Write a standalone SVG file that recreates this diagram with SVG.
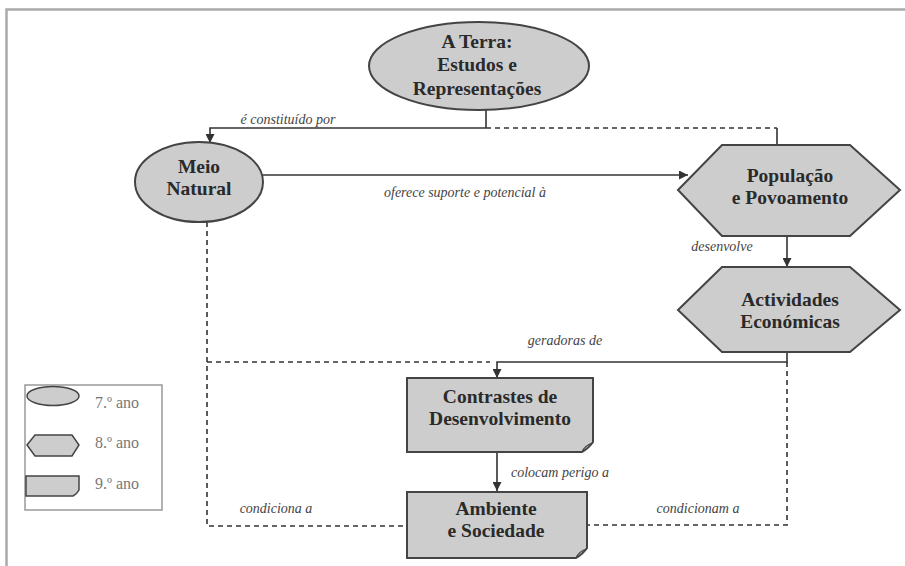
<svg xmlns="http://www.w3.org/2000/svg" width="905" height="566" viewBox="0 0 905 566">
<defs>
<marker id="ah" viewBox="0 0 10 10" refX="10" refY="5" markerWidth="9" markerHeight="9" markerUnits="userSpaceOnUse" orient="auto">
<path d="M0,0 L10,5 L0,10 Z" fill="#333"/>
</marker>
<style>
.node{fill:#cdcdcd;stroke:#444;stroke-width:2}
.t{font-family:"Liberation Serif",serif;font-weight:bold;font-size:19.5px;fill:#2a2a2a;text-anchor:middle}
.lbl{font-family:"Liberation Serif",serif;font-style:italic;font-size:14px;fill:#444;text-anchor:middle}
.leg{font-family:"Liberation Serif",serif;font-size:16px;fill:#777}
.solid{fill:none;stroke:#333;stroke-width:1.6}
.dash{fill:none;stroke:#333;stroke-width:1.6;stroke-dasharray:5,4}
.frame{fill:none;stroke:#aaa;stroke-width:2.5}
.fold{fill:none;stroke:#444;stroke-width:1.2}
</style>
</defs>
<rect width="905" height="566" fill="#fff"/>
<path class="frame" d="M6.5,566 V9.5 H905"/>

<g id="connectors">
<path class="solid" d="M486,110 V128"/>
<path class="solid" d="M486,128 H210 V143" marker-end="url(#ah)"/>
<path class="dash" d="M486,128 H777"/>
<path class="solid" d="M777,128 V145"/>
<path class="solid" d="M263,175 H688" marker-end="url(#ah)"/>
<path class="solid" d="M787,236 V267" marker-end="url(#ah)"/>
<path class="solid" d="M787,352 V362 H497 V378" marker-end="url(#ah)"/>
<path class="dash" d="M207,362 H490"/>
<path class="dash" d="M787,362 V525 H587"/>
<path class="dash" d="M207,222 V526 H406"/>
<path class="solid" d="M497,452 V491" marker-end="url(#ah)"/>
<text class="lbl" x="288" y="124">é constituído por</text>
<text class="lbl" x="465" y="197">oferece suporte e potencial à</text>
<text class="lbl" x="722" y="251">desenvolve</text>
<text class="lbl" x="565" y="345">geradoras de</text>
<text class="lbl" x="560" y="477">colocam perigo a</text>
<text class="lbl" x="276" y="513">condiciona a</text>
<text class="lbl" x="698" y="513">condicionam a</text>
</g>

<g id="terra">
<ellipse class="node" cx="479" cy="66" rx="110" ry="44"/>
<text class="t" x="477" y="48">A Terra:</text>
<text class="t" x="477" y="71">Estudos e</text>
<text class="t" x="477" y="95">Representações</text>
</g>

<g id="meio-natural">
<ellipse class="node" cx="199" cy="182" rx="64" ry="40"/>
<text class="t" x="199" y="173">Meio</text>
<text class="t" x="199" y="195">Natural</text>
</g>

<g id="populacao">
<polygon class="node" points="678,190 722,145 850,145 900,190 850,236 722,236"/>
<text class="t" x="790" y="182">População</text>
<text class="t" x="790" y="204">e Povoamento</text>
</g>

<g id="actividades">
<polygon class="node" points="678,310 722,267 850,267 900,310 850,352 722,352"/>
<text class="t" x="790" y="306">Actividades</text>
<text class="t" x="790" y="328">Económicas</text>
</g>

<g id="contrastes">
<path class="node" d="M407,378 H593 V442 Q589,448 582,452 H407 Z"/>
<path class="fold" d="M582,452 Q585,445 593,443"/>
<text class="t" x="500" y="403">Contrastes de</text>
<text class="t" x="500" y="425">Desenvolvimento</text>
</g>

<g id="ambiente">
<path class="node" d="M407,492 H587 V548 Q583,554 576,558 H407 Z"/>
<path class="fold" d="M576,558 Q579,551 587,549"/>
<text class="t" x="496" y="515">Ambiente</text>
<text class="t" x="496" y="537">e Sociedade</text>
</g>

<g id="legend">
<rect x="25" y="385" width="137" height="125" fill="#fff" stroke="#999" stroke-width="1.5"/>
<ellipse class="node" cx="53" cy="396" rx="26" ry="9.5" style="stroke-width:1.5"/>
<polygon class="node" points="27,445 35,435 72,435 79,445 72,456 35,456" style="stroke-width:1.5"/>
<path class="node" d="M26,476 H79 V490 Q77,494 73,496 H26 Z" style="stroke-width:1.5"/>
<text class="leg" x="95" y="408">7.º ano</text>
<text class="leg" x="95" y="448">8.º ano</text>
<text class="leg" x="95" y="489">9.º ano</text>
</g>
</svg>
